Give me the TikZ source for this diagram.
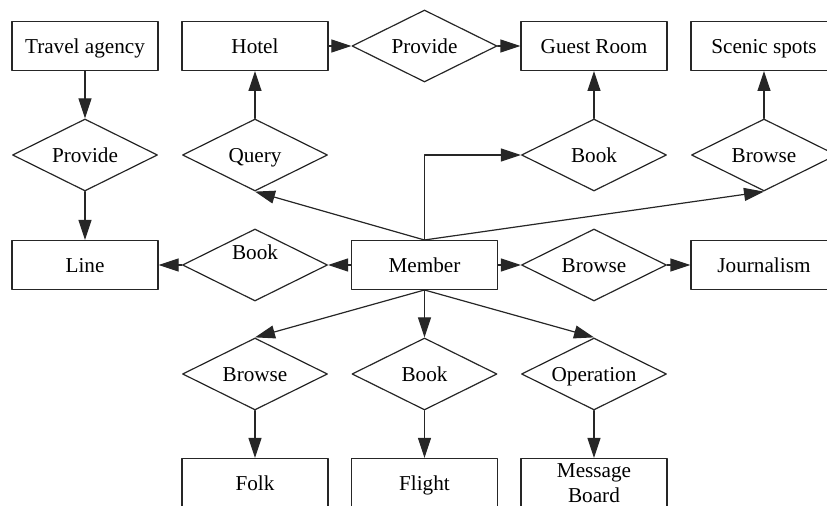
\documentclass[tikz,border=0pt]{standalone}
\usepackage{fontspec}
\setmainfont{Liberation Serif}
\usetikzlibrary{arrows.meta}
\usetikzlibrary{shapes.geometric}

\begin{document}
\begin{tikzpicture}[x=0.5pt,y=-0.5pt,line width=0.6pt,line cap=round,line join=round,>={Triangle[length=10pt,width=6.5pt]},
    entity/.style={draw=black!85,rectangle,minimum width=73pt,minimum height=24.4pt,inner sep=1pt,text height=8.5pt,text depth=0.5pt,align=center,font=\fontsize{10.6}{12.6}\selectfont},
    rel/.style={draw=black!85,diamond,shape aspect=2,minimum width=72.5pt,minimum height=36pt,inner sep=0pt,text height=8.5pt,text depth=0.5pt,font=\fontsize{10.6}{12.6}\selectfont}]
        \useasboundingbox (0,0) rectangle (827,506);
        % entities
        \node[entity] (travel) at (85,46) {Travel agency};
        \node[entity] (hotel) at (255,46) {Hotel};
        \node[entity] (guest) at (594,46) {Guest Room};
        \node[entity] (scenic) at (764,46) {Scenic spots};
        \node[entity] (line) at (85,265) {Line};
        \node[entity] (member) at (424.5,265) {Member};
        \node[entity] (journal) at (764,265) {Journalism};
        \node[entity] (folk) at (255,483) {Folk};
        \node[entity] (flight) at (424.5,483) {Flight};
        \node[entity,text height=,text depth=] (board) at (594,483) {Message\\Board};
        % relations
        \node[rel] (provH) at (424.5,46) {Provide};
        \node[rel] (provA) at (85,155) {Provide};
        \node[rel] (query) at (255,155) {Query};
        \node[rel] (bookG) at (594,155) {Book};
        \node[rel] (browseS) at (764,155) {Browse};
        \node[rel] (bookL) at (255,265) {\raisebox{6.5pt}{Book}};
        \node[rel] (browseJ) at (594,265) {Browse};
        \node[rel] (browseF) at (255,374) {Browse};
        \node[rel] (bookF) at (424.5,374) {Book};
        \node[rel] (oper) at (594,374) {Operation};
        % links
        \foreach \a/\b in {travel/provA,provA/line,query/hotel,bookG/guest,browseS/scenic,hotel/provH,provH/guest,member/bookL,bookL/line,member/browseJ,browseJ/journal,member/bookF,browseF/folk,bookF/flight,oper/board}
        \draw[->,color=black!85] (\a) -- (\b);
        \draw[->,color=black!85] (member.north) -- (query.south);
        \draw[->,color=black!85] (member.north) |- (bookG.west);
        \draw[->,color=black!85] (member.north) -- (browseS.south);
        \draw[->,color=black!85] (member.south) -- (browseF.north);
        \draw[->,color=black!85] (member.south) -- (oper.north);
      \end{tikzpicture}
\end{document}
